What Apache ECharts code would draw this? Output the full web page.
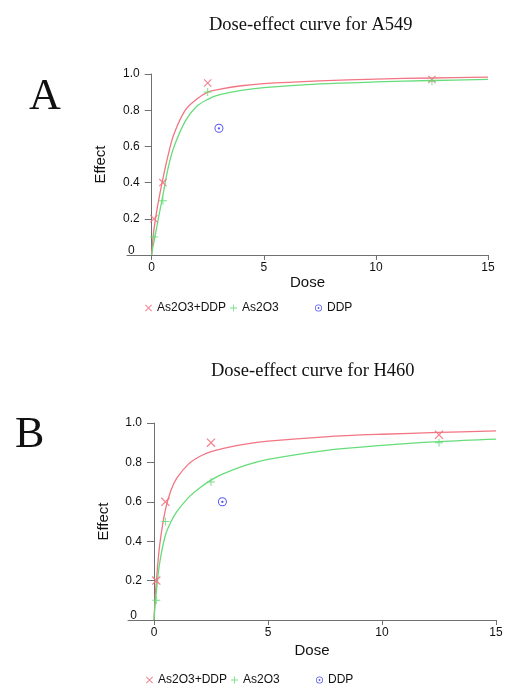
<!DOCTYPE html>
<html>
<head>
<meta charset="utf-8">
<script src="https://cdn.jsdelivr.net/npm/echarts@6/dist/echarts.min.js"></script>
<style>
    html, body { margin: 0; padding: 0; background: #fff; }
    #chart { width: 507px; height: 684px; }
</style>
</head>
<body>
<div id="chart"></div>
<script>
    // measured doses / effects
    const doses = [0.1, 0.5, 2.5, 12.5];
    const ddpDose = [3];
    const comboA = [0.2, 0.4, 0.95, 0.97];
    const as2o3A = [0.1, 0.3, 0.9, 0.96];
    const ddpA = [0.7];
    const comboB = [0.2, 0.6, 0.9, 0.94];
    const as2o3B = [0.1, 0.5, 0.7, 0.9];
    const ddpB = [0.6];

    // fitted curves
    const curveDose = [0, 0.05, 0.1, 0.25, 0.5, 0.75, 1, 1.5, 2, 2.5, 3, 4, 5, 7.5, 10, 12.5, 15];
    const fitComboA = [0, 0.08, 0.14, 0.26, 0.42, 0.56, 0.67, 0.8, 0.86, 0.9, 0.915, 0.935, 0.947, 0.962, 0.972, 0.978, 0.983];
    const fitAs2o3A = [0, 0.04, 0.07, 0.17, 0.33, 0.49, 0.6, 0.74, 0.82, 0.86, 0.885, 0.91, 0.925, 0.945, 0.956, 0.964, 0.97];
    const fitComboB = [0, 0.11, 0.19, 0.38, 0.56, 0.66, 0.72, 0.79, 0.83, 0.855, 0.87, 0.893, 0.908, 0.93, 0.943, 0.952, 0.96];
    const fitAs2o3B = [0, 0.08, 0.14, 0.29, 0.43, 0.5, 0.55, 0.62, 0.67, 0.71, 0.74, 0.785, 0.815, 0.86, 0.886, 0.905, 0.918];

    const xTicks = [0, 5, 10, 15];

    const RED = '#f27583';
    const GREEN = '#66dd7a';
    const BLUE = '#4646ee';
    const crossPath = 'path://M0,1L1,0L10,9L9,10Z M9,0L10,1L1,10L0,9Z';
    const plusPath = 'path://M4.4,0H5.6V10H4.4Z M0,4.4H10V5.6H0Z';
    const dotPath = 'path://M5,0A5,5 0 1 1 5,10A5,5 0 1 1 5,0Z M5,1.1A3.9,3.9 0 1 0 5,8.9A3.9,3.9 0 1 0 5,1.1Z M5,3.7A1.3,1.3 0 1 1 5,6.3A1.3,1.3 0 1 1 5,3.7Z';

    const pairs = (xs, ys) => xs.map((x, i) => [x, ys[i]]);

    const sans = 'Liberation Sans, Arial, sans-serif';
    const serif = 'Liberation Serif, Times New Roman, serif';

    function xAxisOf(grid, min, gap) {
        return {
            type: 'value', gridIndex: grid, min: min, max: 15,
            name: 'Dose', nameLocation: 'middle', nameGap: gap,
            nameTextStyle: { fontSize: 15, fontFamily: sans, color: '#111' },
            axisLine: { lineStyle: { color: '#707070' } },
            axisTick: { customValues: xTicks, length: 5, lineStyle: { color: '#707070' } },
            axisLabel: { customValues: xTicks, margin: 7, fontSize: 12, fontFamily: sans, color: '#111' },
            splitLine: { show: false }
        };
    }
    // the y axis sits at dose 0, shifted inside the grid by offset
    function yAxisOf(grid, offset) {
        return {
            type: 'value', gridIndex: grid, min: 0, max: 1, interval: 0.2,
            offset: offset,
            name: 'Effect', nameLocation: 'middle', nameGap: 43,
            nameTextStyle: { fontSize: 15, fontFamily: sans, color: '#111' },
            axisLine: { show: true, onZero: false, lineStyle: { color: '#707070' } },
            axisTick: { show: true, length: 7, lineStyle: { color: '#707070' } },
            axisLabel: {
                margin: 12, fontSize: 12, fontFamily: sans, color: '#111',
                formatter: v => v === 0 ? '{z|0}' : v.toFixed(1),
                rich: { z: { fontSize: 12, fontFamily: sans, color: '#111', padding: [0, 5, 9, 0] } }
            },
            splitLine: { show: false }
        };
    }
    function curve(name, grid, ys, color) {
        return {
            name: name, type: 'line', xAxisIndex: grid, yAxisIndex: grid,
            data: pairs(curveDose, ys), smooth: 0.35,
            showSymbol: false, lineStyle: { color: color, width: 1.3 }, z: 2
        };
    }
    function points(name, grid, xs, ys, symbol, color, size) {
        return {
            name: name, type: 'scatter', xAxisIndex: grid, yAxisIndex: grid,
            data: pairs(xs, ys), symbol: symbol, symbolSize: size,
            itemStyle: { color: color, opacity: 0.9 }, z: 3
        };
    }
    function legendAt(name, icon, color, left, top) {
        return {
            data: [{ name: name, icon: icon, itemStyle: { color: color } }],
            left: left, top: top, padding: 0, itemWidth: 7, itemHeight: 7,
            textStyle: { fontSize: 12, fontFamily: sans, color: '#111' },
            selectedMode: false
        };
    }

    const chart = echarts.init(document.getElementById('chart'));
    chart.setOption({
        animation: false,
        title: [
            { text: 'Dose-effect curve for A549', left: 204, top: 11,
              textStyle: { fontFamily: serif, fontSize: 18.5, fontWeight: 'normal', color: '#111' } },
            { text: 'Dose-effect curve for H460', left: 206, top: 357,
              textStyle: { fontFamily: serif, fontSize: 18.5, fontWeight: 'normal', color: '#111' } },
            { text: 'A', left: 24, top: 70,
              textStyle: { fontFamily: serif, fontSize: 44, fontWeight: 'normal', color: '#111' } },
            { text: 'B', left: 10, top: 408,
              textStyle: { fontFamily: serif, fontSize: 44, fontWeight: 'normal', color: '#111' } }
        ],
        legend: [
            legendAt('As2O3+DDP', crossPath, RED, 145, 302),
            legendAt('As2O3', plusPath, GREEN, 230, 302),
            legendAt('DDP', dotPath, BLUE, 315, 302),
            legendAt('As2O3+DDP', crossPath, RED, 146, 674),
            legendAt('As2O3', plusPath, GREEN, 231, 674),
            legendAt('DDP', dotPath, BLUE, 316, 674)
        ],
        grid: [
            { left: 127, right: 19, top: 74, height: 181 },
            { left: 128, right: 11, top: 423, height: 197 }
        ],
        xAxis: [xAxisOf(0, -1.1, 20), xAxisOf(1, -1.14, 23)],
        yAxis: [yAxisOf(0, -24.7), yAxisOf(1, -26)],
        series: [
            curve('fit As2O3+DDP A', 0, fitComboA, RED),
            curve('fit As2O3 A', 0, fitAs2o3A, GREEN),
            points('As2O3+DDP', 0, doses, comboA, crossPath, RED, 8),
            points('As2O3', 0, doses, as2o3A, plusPath, GREEN, 8),
            points('DDP', 0, ddpDose, ddpA, dotPath, BLUE, 9),
            curve('fit As2O3+DDP B', 1, fitComboB, RED),
            curve('fit As2O3 B', 1, fitAs2o3B, GREEN),
            points('As2O3+DDP', 1, doses, comboB, crossPath, RED, 9),
            points('As2O3', 1, doses, as2o3B, plusPath, GREEN, 8),
            points('DDP', 1, ddpDose, ddpB, dotPath, BLUE, 9)
        ]
    });
</script>
</body>
</html>
